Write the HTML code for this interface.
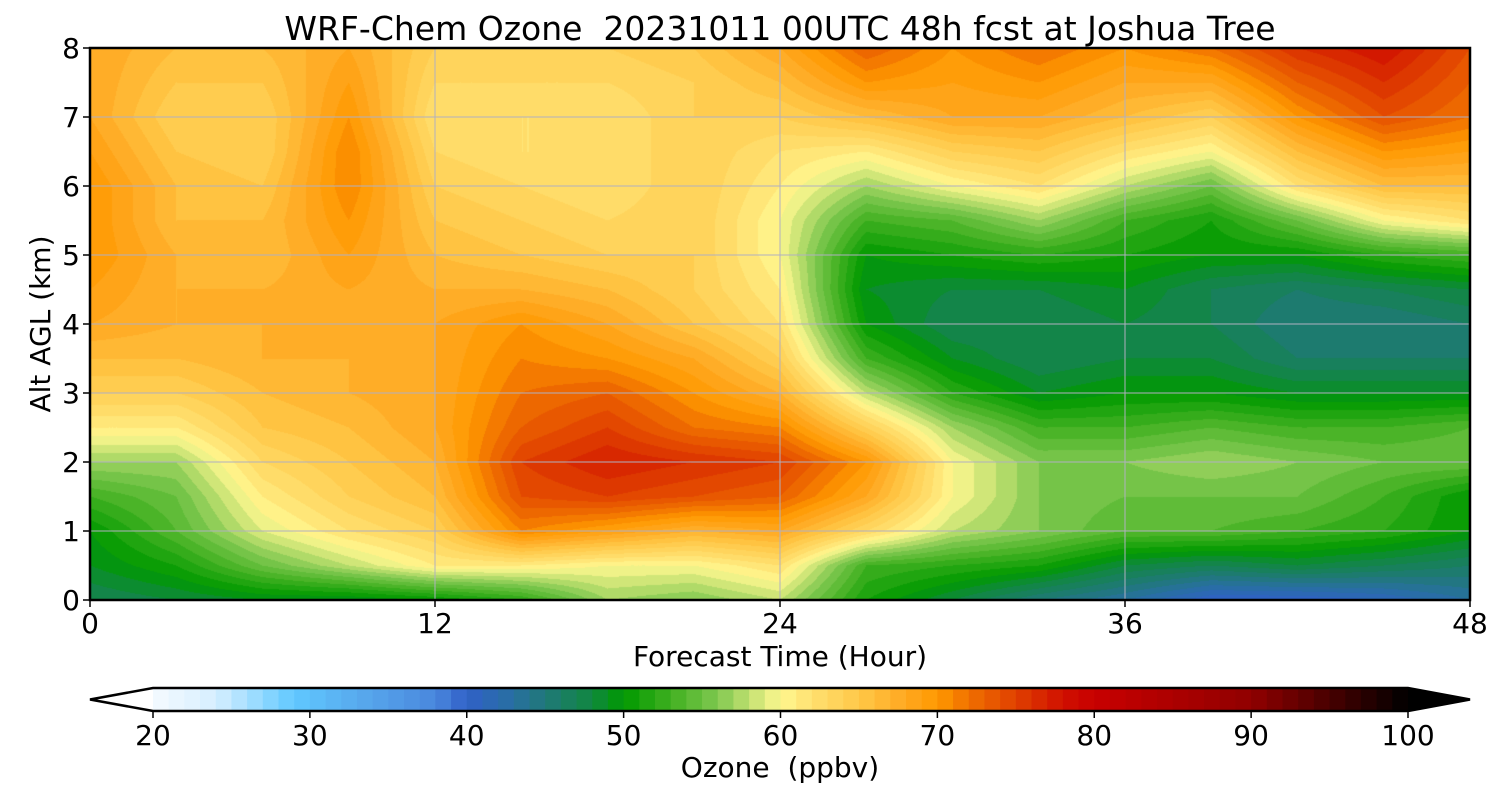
<!DOCTYPE html>
<html><head><meta charset="utf-8">
<style>
body{margin:0;background:#fff;width:1500px;height:800px;overflow:hidden;font-family:"DejaVu Sans","Liberation Sans",sans-serif;}
svg text{font-family:"DejaVu Sans","Liberation Sans",sans-serif;fill:#000;white-space:pre;}
#plot{position:absolute;left:90px;top:48px;}
#ov{position:absolute;left:0;top:0;}
</style></head>
<body>
<canvas id="plot" width="1380" height="552"></canvas>
<svg id="ov" width="1500" height="800"></svg>
<script>
// ----- data -----
const times = [0,3,6,9,12,15,18,21,24,27,30,33,36,39,42,45,48];
const heights = [8,7.5,7,6.5,6,5.5,5,4.5,4,3.5,3,2.5,2,1.5,1,0.5,0];
// each row is one time column: values at heights 8 -> 0 km (ppbv)
const t00 = [68,68,68,69,70,70,70,69,68,66,64,61,57,53,50,49,47];
const t03 = [66,65,64,65,66,66,67,67,67,66,64,61,57,55,54,51,48];
const t06 = [66,65,64,64,65,66,66,67,67,67,66,65,63,61,59,55,49];
const t09 = [68,69,70,71,71,70,69,68,68,67,67,66,65,64,62,58,49];
const t12 = [64,63,62,63,64,65,66,67,68,68,68,68,67,66,64,61,50];
const t15 = [64,63,62,62,63,64,65,67,70,71,72,73,75,74,71,61,52];
const t18 = [64,63,62,62,62,63,64,66,68,70,73,75,77,75,69,60,57];
const t21 = [65,64,64,64,64,64,64,64,65,68,70,72,76,74,67,60,56];
const t24 = [68,66,64,62,61,60,60,61,62,64,67,71,75,73,68,62,58];
const t27 = [73,70,66,61,57,53,50,49,50,53,58,64,70,68,63,53,51];
const t30 = [70,69,68,64,60,54,51,48,47,49,52,57,60,60,58,52,48];
const t33 = [72,70,68,65,62,57,52,48,47,47,49,53,56,56,56,51,45];
const t36 = [70,68,66,62,58,53,51,49,48,48,50,53,56,55,54,48,43];
const t39 = [72,68,64,60,55,51,50,47,47,48,50,54,57,55,54,47,40];
const t42 = [76,73,70,66,62,55,50,46,45,46,49,53,56,55,53,48,40];
const t45 = [78,76,74,70,66,60,52,47,45,46,49,53,55,53,52,47,41];
const t48 = [74,73,72,69,66,62,53,48,46,46,49,54,55,50,50,46,43];
const ozone = [t00,t03,t06,t09,t12,t15,t18,t21,t24,t27,t30,t33,t36,t39,t42,t45,t48];
const xTicks = [0,12,24,36,48];
const yTicks = [0,1,2,3,4,5,6,7,8];
const cbTicks = [20,30,40,50,60,70,80,90,100];
// colormap anchors (value -> color)
const cmapVals = [20,24,29,33,38,40,43,45,48,50,53,56,58,60,62,65,68,70,72,75,78,80,90,100];
const cmapCols = ['#f5faff','#d6efff','#60c8ff','#58aaee','#4a88dd','#3060c8','#2870a0','#207878','#108840','#009900','#40b020','#80c850','#c0e070','#fff890','#ffe070','#ffc848','#ffa820','#ff9900','#f07000','#e04000','#d01000','#c80000','#900000','#000000'];

// ----- axes -----
const PX=90, PY=48, PW=1380, PH=552;
const xs = t => PX + t/48*PW;
const ys = h => PY + (8-h)/8*PH;
const CBX0=153, CBX1=1408, CBY=688, CBH=23;
const cbx = v => CBX0 + (v-20)/80*(CBX1-CBX0);

function hex(c){return [parseInt(c.substr(1,2),16),parseInt(c.substr(3,2),16),parseInt(c.substr(5,2),16)];}
function cmap(v){
  if(v<=cmapVals[0]) return hex(cmapCols[0]);
  for(let i=1;i<cmapVals.length;i++){
    if(v<=cmapVals[i]){
      const f=(v-cmapVals[i-1])/(cmapVals[i]-cmapVals[i-1]);
      const a=hex(cmapCols[i-1]), b=hex(cmapCols[i]);
      return a.map((x,k)=>Math.round(x+(b[k]-x)*f));
    }
  }
  return hex(cmapCols[cmapCols.length-1]);
}
function levelColor(v){const l=Math.floor(v); return cmap(l+0.5);}

function sample(t,h){
  let i=0;
  while(i<times.length-2 && t>times[i+1]) i++;
  const ft=(t-times[i])/(times[i+1]-times[i]);
  let j=0; while(j<heights.length-2 && h<heights[j+1]) j++;
  const fh=(heights[j]-h)/(heights[j]-heights[j+1]);
  const a=ozone[i][j], b=ozone[i+1][j], c=ozone[i][j+1], d=ozone[i+1][j+1];
  return (a*(1-ft)+b*ft)*(1-fh)+(c*(1-ft)+d*ft)*fh;
}

const cv=document.getElementById('plot'), ctx=cv.getContext('2d');
const img=ctx.createImageData(PW,PH);
for(let y=0;y<PH;y++){
  const h=8-(y+0.5)/PH*8;
  for(let x=0;x<PW;x++){
    const t=(x+0.5)/PW*48;
    const c=levelColor(sample(t,h));
    const k=(y*PW+x)*4;
    img.data[k]=c[0];img.data[k+1]=c[1];img.data[k+2]=c[2];img.data[k+3]=255;
  }
}
ctx.putImageData(img,0,0);

const svg=document.getElementById('ov'), NS='http://www.w3.org/2000/svg';
function mk(tag,attrs,parent){const e=document.createElementNS(NS,tag);for(const k in attrs)e.setAttribute(k,attrs[k]);(parent||svg).appendChild(e);return e;}

xTicks.forEach(t=>{
  const l=mk('line',{x1:xs(t),x2:xs(t),y1:PY,y2:PY+PH,stroke:'#b0b0c0','stroke-width':1});
  
  
});
yTicks.forEach(h=>{
  const l=mk('line',{x1:PX,x2:PX+PW,y1:ys(h),y2:ys(h),stroke:'#b0b0c0','stroke-width':1});
  
  
});
const fr=mk('rect',{x:PX,y:PY,width:PW,height:PH,fill:'none',stroke:'#000','stroke-width':2.5});



xTicks.forEach(t=>{
  mk('line',{x1:xs(t),x2:xs(t),y1:PY+PH,y2:PY+PH+7,stroke:'#000','stroke-width':1.5});
  const tx=mk('text',{x:xs(t),y:PY+PH+33,'font-size':28,'text-anchor':'middle'});
  tx.textContent=t;
  
  
});
yTicks.forEach(h=>{
  mk('line',{x1:PX-7,x2:PX,y1:ys(h),y2:ys(h),stroke:'#000','stroke-width':1.5});
  const tx=mk('text',{x:PX-10,y:ys(h)+10,'font-size':28,'text-anchor':'end'});
  tx.textContent=h;
  
  
});
const title=mk('text',{x:780,y:40,'font-size':33,'text-anchor':'middle'});
title.textContent='WRF-Chem Ozone  20231011 00UTC 48h fcst at Joshua Tree';


const xl=mk('text',{x:780,y:666,'font-size':28,'text-anchor':'middle'});
xl.textContent='Forecast Time (Hour)';


const yl=mk('text',{x:0,y:0,'font-size':28,'text-anchor':'middle',transform:'translate(50,324) rotate(-90)'});
yl.textContent='Alt AGL (km)';



for(let v=20;v<100;v++){
  const c=cmap(v+0.5);
  const r=mk('rect',{x:cbx(v),y:CBY,width:cbx(v+1)-cbx(v)+0.6,height:CBH,fill:'rgb('+c.join(',')+')'});
  
  
}
const lt=mk('polygon',{points:`${CBX0},${CBY} 90,${CBY+CBH/2} ${CBX0},${CBY+CBH}`,fill:'#fff'});


const rt=mk('polygon',{points:`${CBX1},${CBY} 1470,${CBY+CBH/2} ${CBX1},${CBY+CBH}`,fill:'#000'});


const ol=mk('polygon',{points:`${CBX0},${CBY} ${CBX1},${CBY} 1470,${CBY+CBH/2} ${CBX1},${CBY+CBH} ${CBX0},${CBY+CBH} 90,${CBY+CBH/2}`,fill:'none',stroke:'#000','stroke-width':2.5});


cbTicks.forEach(v=>{
  mk('line',{x1:cbx(v),x2:cbx(v),y1:CBY+CBH,y2:CBY+CBH+7,stroke:'#000','stroke-width':1.5});
  const tx=mk('text',{x:cbx(v),y:745,'font-size':28,'text-anchor':'middle'});
  tx.textContent=v;
  
  
});
const cl=mk('text',{x:780,y:777,'font-size':28,'text-anchor':'middle'});
cl.textContent='Ozone  (ppbv)';


</script>
</body></html>
